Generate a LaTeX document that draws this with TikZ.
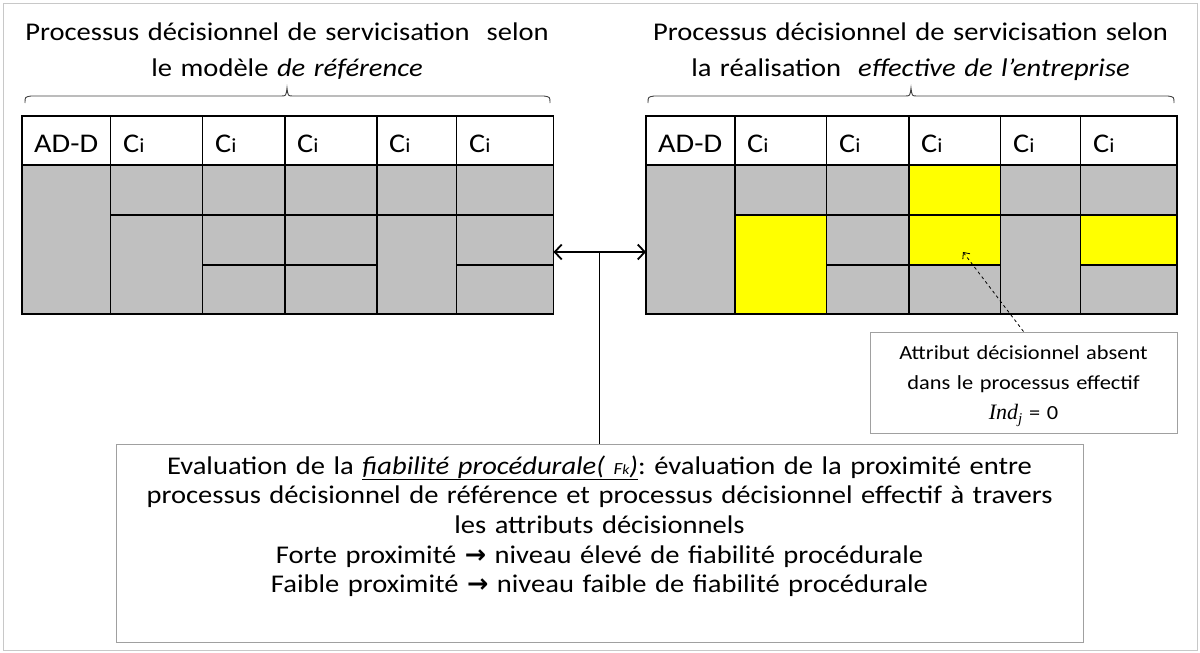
\documentclass[tikz,border=0pt]{standalone}
\usepackage{fontspec}
\setmainfont{Carlito}[FakeStretch=1.12]
\newfontfamily\dejavu{DejaVu Sans}
\newfontfamily\serifit{Liberation Serif}
\usetikzlibrary{arrows.meta}
\frenchspacing
\definecolor{cellgray}{HTML}{C0C0C0}
\definecolor{cellyel}{HTML}{FFFF00}
\definecolor{framegray}{HTML}{C8C8C8}
\definecolor{boxgray}{HTML}{A0A0A0}
\definecolor{bracegray}{HTML}{404040}
\newcommand{\tcell}[5]{\draw[cellline,fill=#5] (#1,#2) rectangle (#3,#4);}
\newcommand{\Ci}{C{\fontsize{20}{20}\selectfont i}}
\begin{document}
\begin{tikzpicture}[x=1pt,y=-1pt,
  cellline/.style={draw=black,line width=1.4pt},
  titletext/.style={anchor=base,text width=600pt,align=center,inner sep=0pt,font=\fontsize{25.5}{36.7}\selectfont},
  headtext/.style={anchor=base west,inner sep=0pt,font=\fontsize{27}{30}\selectfont},
  bracestyle/.style={draw=bracegray,line width=0.9pt},
  textbox/.style={draw=boxgray,line width=1pt,fill=white,inner sep=0pt},
  linkline/.style={draw=black,line width=1pt}
]
\useasboundingbox (0,0) rectangle (1200,653);
\draw[framegray,line width=1pt] (3,3) rectangle (1197,650);

% titles
\node[titletext] (titleL) at (287,40) {Processus décisionnel de servicisation\ \ selon\\le modèle \textit{de référence}};
\node[titletext] (titleR) at (910.5,40) {Processus décisionnel de servicisation selon\\la réalisation\ \ \textit{effective de l’entreprise}};

% braces
\draw[bracestyle] (25,103) .. controls (25,97) .. (31,96) -- (281,96) .. controls (286,96) .. (287,88) .. controls (288,96) .. (293,96) -- (544,96) .. controls (550,97) .. (550,103);
\draw[bracestyle] (648,103) .. controls (648,97) .. (654,96) -- (905,96) .. controls (910,96) .. (911,88) .. controls (912,96) .. (917,96) -- (1168,96) .. controls (1174,97) .. (1174,103);

% left table
\tcell{22}{116}{110.5}{165}{white}
\tcell{110.5}{116}{202.5}{165}{white}
\tcell{202.5}{116}{285}{165}{white}
\tcell{285}{116}{377}{165}{white}
\tcell{377}{116}{456.5}{165}{white}
\tcell{456.5}{116}{553.5}{165}{white}
\tcell{22}{165}{110.5}{314}{cellgray}
\tcell{110.5}{165}{202.5}{215}{cellgray}
\tcell{110.5}{215}{202.5}{314}{cellgray}
\tcell{202.5}{165}{285}{215}{cellgray}
\tcell{202.5}{215}{285}{265}{cellgray}
\tcell{202.5}{265}{285}{314}{cellgray}
\tcell{285}{165}{377}{215}{cellgray}
\tcell{285}{215}{377}{265}{cellgray}
\tcell{285}{265}{377}{314}{cellgray}
\tcell{377}{165}{456.5}{215}{cellgray}
\tcell{377}{215}{456.5}{314}{cellgray}
\tcell{456.5}{165}{553.5}{215}{cellgray}
\tcell{456.5}{215}{553.5}{265}{cellgray}
\tcell{456.5}{265}{553.5}{314}{cellgray}
\node[headtext] (hL0) at (34,152) {AD-D};
\node[headtext] (hL1) at (123,152) {\Ci};
\node[headtext] (hL2) at (215,152) {\Ci};
\node[headtext] (hL3) at (297,152) {\Ci};
\node[headtext] (hL4) at (389,152) {\Ci};
\node[headtext] (hL5) at (469,152) {\Ci};

% right table
\tcell{646}{116}{735}{165}{white}
\tcell{735}{116}{826.5}{165}{white}
\tcell{826.5}{116}{909}{165}{white}
\tcell{909}{116}{1000.5}{165}{white}
\tcell{1000.5}{116}{1080.5}{165}{white}
\tcell{1080.5}{116}{1177}{165}{white}
\tcell{646}{165}{735}{314}{cellgray}
\tcell{735}{165}{826.5}{215}{cellgray}
\tcell{735}{215}{826.5}{314}{cellyel}
\tcell{826.5}{165}{909}{215}{cellgray}
\tcell{826.5}{215}{909}{265}{cellgray}
\tcell{826.5}{265}{909}{314}{cellgray}
\tcell{909}{165}{1000.5}{215}{cellyel}
\tcell{909}{215}{1000.5}{265}{cellyel}
\tcell{909}{265}{1000.5}{314}{cellgray}
\tcell{1000.5}{165}{1080.5}{215}{cellgray}
\tcell{1000.5}{215}{1080.5}{314}{cellgray}
\tcell{1080.5}{165}{1177}{215}{cellgray}
\tcell{1080.5}{215}{1177}{265}{cellyel}
\tcell{1080.5}{265}{1177}{314}{cellgray}
\node[headtext] (hR0) at (658,152) {AD-D};
\node[headtext] (hR1) at (747,152) {\Ci};
\node[headtext] (hR2) at (839,152) {\Ci};
\node[headtext] (hR3) at (921,152) {\Ci};
\node[headtext] (hR4) at (1013,152) {\Ci};
\node[headtext] (hR5) at (1093,152) {\Ci};

% connectors
\coordinate (tabL) at (553.5,252);
\coordinate (tabR) at (646,252);
\coordinate (mid) at (599.5,252);
\coordinate (absent) at (963,252);
\draw[line width=1.8pt,{Straight Barb[length=7pt,width=15pt]}-{Straight Barb[length=7pt,width=15pt]}] (tabL) -- (tabR);

% callout
\node[textbox,minimum width=307pt,minimum height=101pt] (attr) at (1023.5,382.5) {};
\node[anchor=base,text width=300pt,align=center,inner sep=0pt,font=\fontsize{20}{30}\selectfont] (attrtext) at (1023.5,359) {Attribut décisionnel absent\\dans le processus effectif\\{\serifit\itshape\fontsize{22}{22}\selectfont Ind\raisebox{-4pt}{\fontsize{15}{15}\selectfont j}} = 0};
\draw[line width=0.8pt,dash pattern=on 3pt off 3pt,-{Straight Barb[length=5pt,width=9pt]}] (attr.north) -- (absent);

% evaluation box
\node[textbox,minimum width=967pt,minimum height=198pt] (eval) at (599.5,543) {};
\node[anchor=base,text width=960pt,align=center,inner sep=0pt,font=\fontsize{25.5}{29.7}\selectfont] (evaltext) at (599.5,474) {Evaluation de la \underline{\textit{fiabilité procédurale( {\fontsize{17}{17}\selectfont F}{\fontsize{14}{14}\selectfont k})}}: évaluation de la proximité entre\\processus décisionnel de référence et processus décisionnel effectif à travers\\les attributs décisionnels\\Forte proximité {\dejavu\bfseries →} niveau élevé de fiabilité procédurale\\Faible proximité {\dejavu\bfseries →} niveau faible de fiabilité procédurale};
\draw[linkline] (mid) -- (eval.north);
\end{tikzpicture}
\end{document}
